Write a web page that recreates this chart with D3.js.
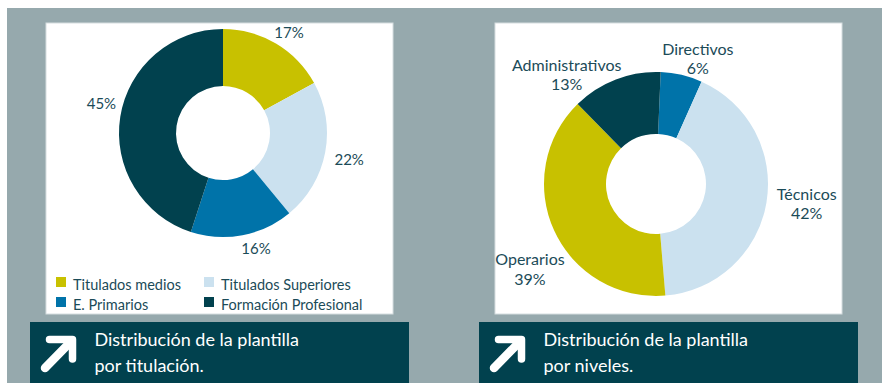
<!DOCTYPE html>
<html lang="es">
<head>
<meta charset="utf-8">
<script src="https://cdn.jsdelivr.net/npm/d3@7"></script>
<style>
  html, body { margin: 0; padding: 0; background: #ffffff; }
  svg { display: block; font-family: Lato, "Open Sans", sans-serif; }
</style>
</head>
<body>
<svg id="chart" width="882" height="383"></svg>
<script>
// Plantilla por titulación (porcentaje)
const titulacionCategories = ["Titulados medios", "Titulados Superiores", "E. Primarios", "Formación Profesional"];
const titulacionValues = [17, 22, 16, 45];

// Plantilla por niveles (porcentaje)
const nivelesCategories = ["Directivos", "Técnicos", "Operarios", "Administrativos"];
const nivelesValues = [6, 42, 39, 13];

const captions = [
  ["Distribución de la plantilla", "por titulación."],
  ["Distribución de la plantilla", "por niveles."]
];

// Palette
const C = {
  yellow: "#c8c100",
  light: "#cbe1ef",
  blue: "#0073a9",
  dark: "#01414e",
  frame: "#96a9ad",
  text: "#1b4b58"
};
const titulacionColors = [C.yellow, C.light, C.blue, C.dark];
const nivelesColors = [C.blue, C.light, C.yellow, C.dark];

// Label placement around each ring: [angle in degrees from 12 o'clock, distance from centre]
const titulacionLabelPolar = [[33.4, 120], [102, 129], [164, 120], [283.4, 125]];
const nivelesLabelPolar = [[18.5, 132], [97.5, 152], [236, 152], [320.7, 141]];

const svg = d3.select("#chart");
const toRad = d => d * Math.PI / 180;

// Grey backdrop
svg.append("rect").attr("x", 7).attr("y", 8).attr("width", 875).attr("height", 375).attr("fill", C.frame);

function panel(offsetX, caption) {
  const g = svg.append("g").attr("transform", `translate(${offsetX},0)`);
  g.append("rect").attr("x", 46).attr("y", 23).attr("width", 347).attr("height", 291)
    .attr("fill", "#ffffff").attr("stroke", "#d5dee0").attr("stroke-width", 1);
  const cap = g.append("g").attr("transform", "translate(30,322)");
  cap.append("rect").attr("width", 379).attr("height", 62).attr("fill", C.dark);
  // arrow icon
  const icon = cap.append("g").attr("fill", "none").attr("stroke", "#ffffff")
    .attr("stroke-linecap", "round").attr("stroke-linejoin", "round");
  icon.append("path").attr("d", "M19.5,17.5 L42.5,17.5 L42.5,37").attr("stroke-width", 7.5);
  icon.append("path").attr("d", "M15,46 L39.5,21").attr("stroke-width", 8.5);
  // two-line caption as one text block
  const t = cap.append("text").attr("fill", "#ffffff").attr("font-size", 18);
  t.selectAll("tspan").data(caption).join("tspan")
    .attr("x", 64.5).attr("y", (d, i) => 24 + i * 25.5).text(d => d);
  return g;
}

function donut(g, cx, cy, rOuter, rInner, values, colors, start) {
  const pie = d3.pie().sort(null).value(d => d)
    .startAngle(toRad(start)).endAngle(toRad(start) + 2 * Math.PI);
  const arc = d3.arc().outerRadius(rOuter).innerRadius(rInner);
  const ring = g.append("g").attr("transform", `translate(${cx},${cy})`);
  ring.selectAll("path").data(pie(values)).join("path")
    .attr("d", arc).attr("fill", (d, i) => colors[i]);
  return ring;
}

const polar = ([a, r]) => [r * Math.sin(toRad(a)), -r * Math.cos(toRad(a))];

// ---- Left: por titulación ----
const left = panel(0, captions[0]);
const ringL = donut(left, 223, 133, 104, 47, titulacionValues, titulacionColors, 0);
ringL.selectAll("text").data(titulacionValues).join("text")
  .attr("x", (d, i) => polar(titulacionLabelPolar[i])[0])
  .attr("y", (d, i) => polar(titulacionLabelPolar[i])[1] + 5.3)
  .attr("text-anchor", "middle").attr("font-size", 15).attr("fill", C.text)
  .text(d => d + "%");

// legend in two columns
const legend = left.append("g");
const legItems = legend.selectAll("g").data(titulacionCategories).join("g")
  .attr("transform", (d, i) => `translate(${56 + (i % 2) * 148},${277 + Math.floor(i / 2) * 20})`);
legItems.append("rect").attr("width", 10).attr("height", 10).attr("fill", (d, i) => titulacionColors[i]);
legItems.append("text").attr("x", 17).attr("y", 13).attr("font-size", 14.5).attr("fill", C.text).text(d => d);

// ---- Right: por niveles ----
const right = panel(449, captions[1]);
const ringR = donut(right, 207, 184, 112, 50, nivelesValues, nivelesColors, 2.4);
// category name and share as one two-line label
const lab = ringR.selectAll("text.lab").data(nivelesValues).join("text").attr("class", "lab")
  .attr("transform", (d, i) => `translate(${polar(nivelesLabelPolar[i])})`)
  .attr("text-anchor", "middle").attr("font-size", 16).attr("fill", C.text);
lab.append("tspan").attr("x", 0).attr("y", -4).text((d, i) => nivelesCategories[i]);
lab.append("tspan").attr("x", 0).attr("y", 15.6).text(d => d + "%");
</script>
</body>
</html>
